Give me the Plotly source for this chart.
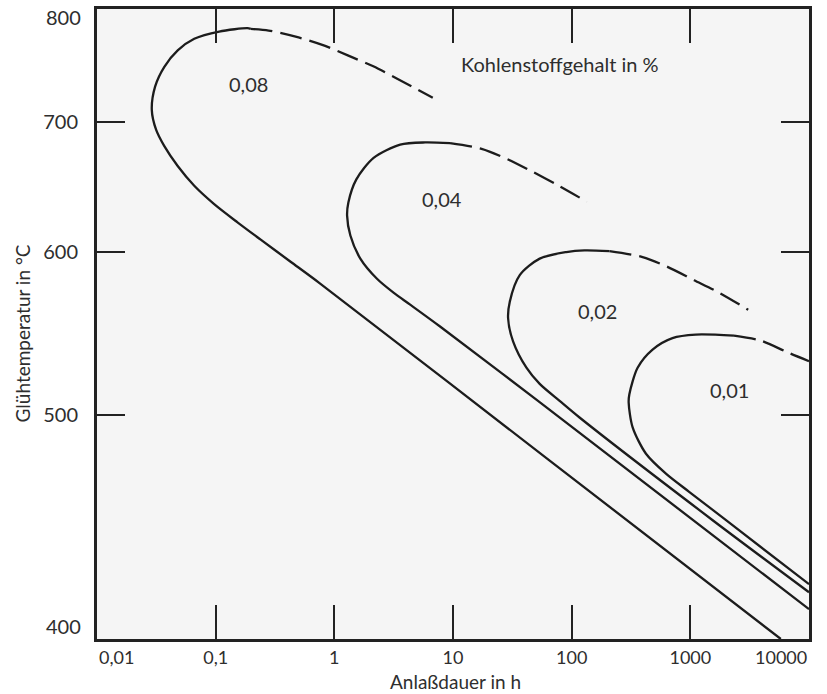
import numpy as np
import plotly.graph_objects as go

# ---------------- data (Anlaßdauer in h, Glühtemperatur in °C) ----------------
# 0,08 % C
c008_solid_t = [0.1975, 0.1853, 0.1070, 0.06600, 0.04787, 0.03694, 0.03087, 0.02896,
                0.03147, 0.03694, 0.04787, 0.06600, 0.09714, 0.1527, 0.2396, 0.4280,
                0.7643, 66.5, 5787]
c008_solid_T = [787.4, 788.1, 784.7, 777.4, 765.9, 750.0, 731.5, 710.6,
                693.5, 679.7, 663.6, 648.1, 634.2, 620.8, 608.4, 593.1,
                578.3, 475.5, 394.8]
c008_dash_t = [0.1975, 0.2797, 0.4995, 0.8258, 1.313, 2.130, 3.387, 6.754]
c008_dash_T = [787.4, 785.7, 778.7, 770.5, 760.7, 750.5, 738.8, 721.5]

# 0,04 % C
c004_solid_t = [9.437, 5.820, 3.589, 2.142, 1.533, 1.313, 1.281, 1.365, 1.656,
                2.288, 3.153, 4.355, 7.778, 52.03, 10000]
c004_solid_T = [682.2, 682.8, 681.0, 670.2, 653.1, 635.5, 625.7, 611.3, 595.2,
                581.6, 572.5, 564.8, 551.1, 507.6, 407.1]
c004_dash_t = [9.437, 17.42, 29.13, 47.23, 76.62, 134.2]
c004_dash_T = [682.2, 677.5, 668.9, 658.9, 648.5, 636.0]

# 0,02 % C
c002_solid_t = [208.1, 128.3, 90.09, 53.77, 36.52, 30.10, 29.13, 32.08, 41.57,
                53.77, 79.17, 116.5, 1533, 10000]
c002_solid_T = [600.4, 600.9, 599.7, 595.2, 584.0, 566.7, 556.2, 542.0, 526.4,
                517.1, 507.6, 498.5, 446.8, 414.3]
c002_dash_t = [208.1, 396.0, 642.2, 1076, 1745, 3074]
c002_dash_T = [600.4, 596.3, 589.6, 580.7, 572.5, 561.5]

# 0,01 % C
c001_solid_t = [2332, 1112, 707.3, 480.6, 359.5, 306.3, 302.2, 326.5, 423.0,
                622.7, 977.0, 1986, 10000]
c001_solid_T = [545.5, 546.1, 544.0, 537.1, 526.4, 511.3, 506.7, 493.2, 479.4,
                469.3, 460.3, 446.8, 417.8]
c001_dash_t = [2332, 3907, 6753, 10000]
c001_dash_T = [545.5, 542.5, 535.1, 530.2]

curve_labels = ["0,08", "0,04", "0,02", "0,01"]
curve_label_t = [0.1901, 8.038, 166.0, 2118]
curve_label_T = [733.8, 637.9, 560.8, 513.7]

legend_title = "Kohlenstoffgehalt in %"
legend_title_t = 80.2
legend_title_T = 752.4

x_tick_vals = [0.1, 1, 10, 100, 1000]
x_tick_text = ["0,1", "1", "10", "100", "1000"]
x_edge_vals = [0.01, 10000]
x_edge_text = ["0,01", "10000"]
x_range_t = [0.01, 10000]

y_tick_vals = [700, 600, 500]
y_tick_text = ["700", "600", "500"]
y_edge_vals = [800, 400]
y_edge_text = ["800", "400"]
y_range_T = [394.8, 808.1]

x_title = "Anlaßdauer in h"
y_title = "Glühtemperatur in °C"


# ---------------- scale: temperature axis is linear in 1/T (Kelvin) ----------------
def u(T):
    return 1000.0 / (np.asarray(T, dtype=float) + 273.15)


FONT = "Lato, 'Open Sans', sans-serif"
TXT = "#2e2e2e"
LINE = "#1c1c1c"

fig = go.Figure()

solid_parts = [(c008_solid_t, c008_solid_T), (c004_solid_t, c004_solid_T),
               (c002_solid_t, c002_solid_T), (c001_solid_t, c001_solid_T)]
dash_parts = [(c008_dash_t, c008_dash_T), (c004_dash_t, c004_dash_T),
              (c002_dash_t, c002_dash_T), (c001_dash_t, c001_dash_T)]

for t, T in solid_parts:
    fig.add_trace(go.Scatter(x=t, y=u(T), mode="lines",
                             line=dict(color=LINE, width=2.3, shape="spline", smoothing=0.8),
                             hoverinfo="skip", showlegend=False))
for t, T in dash_parts:
    fig.add_trace(go.Scatter(x=t, y=u(T), mode="lines",
                             line=dict(color=LINE, width=2.3, shape="spline", smoothing=0.8,
                                       dash="22px,8px"),
                             hoverinfo="skip", showlegend=False))

font = dict(family=FONT, size=20, color=TXT)
tick_font = dict(family=FONT, size=18, color=TXT)
title_font = dict(family=FONT, size=19, color=TXT)

annotations = []
for txt, t, T in zip(curve_labels, curve_label_t, curve_label_T):
    annotations.append(dict(x=np.log10(t), y=float(u(T)), xref="x", yref="y", text=txt,
                            showarrow=False, font=font))
annotations.append(dict(x=np.log10(legend_title_t), y=float(u(legend_title_T)), xref="x", yref="y",
                        text=legend_title, showarrow=False, font=font))

# edge tick labels (sit inside the frame ends, as in the original)
annotations.append(dict(x=np.log10(x_edge_vals[0]), y=0, xref="x", yref="paper", text=x_edge_text[0],
                        xanchor="left", yanchor="middle", yshift=-18, showarrow=False, font=tick_font))
annotations.append(dict(x=np.log10(x_edge_vals[1]), y=0, xref="x", yref="paper", text=x_edge_text[1],
                        xanchor="right", yanchor="middle", yshift=-18, showarrow=False, font=tick_font))
for v, txt in zip(y_edge_vals, y_edge_text):
    annotations.append(dict(x=0, y=float(u(v)), xref="paper", yref="y", text=txt,
                            xanchor="right", yanchor="middle", xshift=-14, showarrow=False, font=font))

# axis titles
annotations.append(dict(x=0.504, y=0, xref="paper", yref="paper", text=x_title,
                        xanchor="center", yanchor="middle", yshift=-42, showarrow=False, font=title_font))
annotations.append(dict(x=0, y=0.485, xref="paper", yref="paper", text=y_title, textangle=-90,
                        xanchor="center", yanchor="middle", xshift=-75, showarrow=False, font=title_font))

fig.update_layout(
    width=827, height=694,
    margin=dict(l=97, r=18, t=6, b=55),
    paper_bgcolor="white", plot_bgcolor="#f5f5f5",
    showlegend=False,
    annotations=annotations,
    xaxis=dict(type="log", range=[np.log10(x_range_t[0]), np.log10(x_range_t[1])],
               showline=True, linewidth=3, linecolor="#222", mirror="ticks",
               ticks="inside", ticklen=34, tickwidth=2.2, tickcolor="#222",
               tickvals=x_tick_vals, ticktext=x_tick_text, tickfont=tick_font,
               showgrid=False, zeroline=False, fixedrange=True),
    yaxis=dict(range=[float(u(y_range_T[0])), float(u(y_range_T[1]))],
               showline=True, linewidth=3, linecolor="#222", mirror="ticks",
               ticks="inside", ticklen=28, tickwidth=2.2, tickcolor="#222",
               tickvals=[float(v) for v in u(y_tick_vals)], ticktext=y_tick_text,
               tickfont=font, ticklabelstandoff=12,
               showgrid=False, zeroline=False, fixedrange=True),
)

fig.write_html("out.html", config={"displayModeBar": False},
               post_script="document.body.style.margin='0px';")
